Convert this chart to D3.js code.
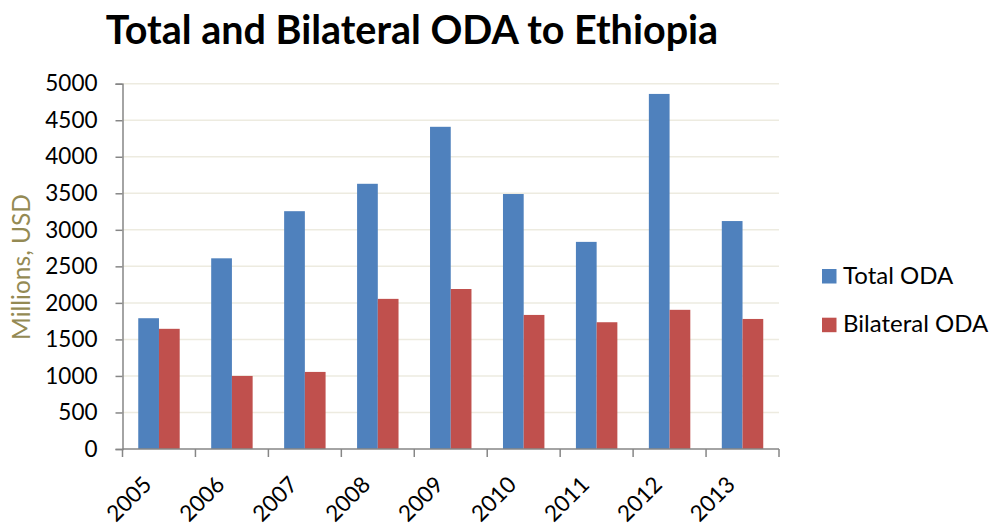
<!DOCTYPE html>
<html>
<head>
<meta charset="utf-8">
<script src="https://cdn.jsdelivr.net/npm/d3@7/dist/d3.min.js"></script>
<style>
  html, body { margin: 0; padding: 0; background: #fff; }
  svg { display: block; font-family: "Lato", "Open Sans", sans-serif; }
</style>
</head>
<body>
<svg id="chart" width="994" height="525"></svg>
<script>
// ODA to Ethiopia, millions of USD
const years = ["2005", "2006", "2007", "2008", "2009", "2010", "2011", "2012", "2013"];
const totalODA = [1790, 2610, 3255, 3630, 4410, 3490, 2835, 4860, 3120];
const bilateralODA = [1645, 1000, 1055, 2055, 2190, 1835, 1735, 1905, 1780];
const seriesNames = ["Total ODA", "Bilateral ODA"];
const seriesColors = ["#4F81BD", "#C0504D"];
const yTicks = [0, 500, 1000, 1500, 2000, 2500, 3000, 3500, 4000, 4500, 5000];

const svg = d3.select("#chart");
const plot = { left: 122.5, right: 779, top: 83.7, bottom: 449 };

const x = d3.scaleBand().domain(years).range([plot.left, plot.right]).paddingInner(0).paddingOuter(0);
const inner = d3.scaleBand().domain(seriesNames).range([0, x.bandwidth()]).paddingInner(0).paddingOuter(0.76);
const y = d3.scaleLinear().domain([0, 5000]).range([plot.bottom, plot.top]);

// Title
svg.append("text")
  .attr("x", 412).attr("y", 44)
  .attr("text-anchor", "middle")
  .style("font-size", "39.5px").style("font-weight", "bold").style("fill", "#000")
  .text("Total and Bilateral ODA to Ethiopia");

// Horizontal gridlines
svg.append("g").selectAll("line")
  .data(yTicks.filter(d => d > 0))
  .join("line")
  .attr("x1", plot.left).attr("x2", plot.right)
  .attr("y1", d => y(d)).attr("y2", d => y(d))
  .attr("stroke", "#EDEBE0").attr("stroke-width", 1.5);

// Bars
const data = years.map((yr, i) => ({ year: yr, values: [totalODA[i], bilateralODA[i]] }));
const groups = svg.append("g").selectAll("g")
  .data(data).join("g")
  .attr("transform", d => `translate(${x(d.year)},0)`);
groups.selectAll("rect")
  .data(d => d.values.map((v, j) => ({ name: seriesNames[j], value: v, color: seriesColors[j] })))
  .join("rect")
  .attr("x", d => inner(d.name))
  .attr("width", inner.bandwidth())
  .attr("y", d => y(d.value))
  .attr("height", d => y(0) - y(d.value))
  .attr("fill", d => d.color);

// Y axis
const yAxis = d3.axisLeft(y).tickValues(yTicks).tickSize(7).tickPadding(18).tickFormat(d3.format("d"));
const gy = svg.append("g").attr("transform", `translate(${plot.left},0)`).call(yAxis)
  .attr("font-family", null).attr("font-size", null);
gy.select(".domain").attr("stroke", "#868686").attr("stroke-width", 1.5);
gy.selectAll(".tick line").attr("stroke", "#868686").attr("stroke-width", 1.5);
gy.selectAll(".tick text").style("font-size", "22.5px").style("fill", "#000");

// X axis with boundary ticks between categories
const gx = svg.append("g").attr("transform", `translate(0,${plot.bottom})`);
gx.append("line").attr("x1", plot.left).attr("x2", plot.right)
  .attr("stroke", "#868686").attr("stroke-width", 1.5);
const bounds = years.map(d => x(d)).concat([plot.right]);
gx.selectAll("line.tk").data(bounds).join("line").attr("class", "tk")
  .attr("x1", d => d).attr("x2", d => d).attr("y1", 0).attr("y2", 8)
  .attr("stroke", "#868686").attr("stroke-width", 1.5);
gx.selectAll("text").data(years).join("text")
  .attr("transform", d => `translate(${x(d) + x.bandwidth() / 2 - 6},${37}) rotate(-45)`)
  .attr("text-anchor", "end")
  .style("font-size", "22.5px").style("fill", "#000")
  .text(d => d);

// Y axis title
svg.append("text")
  .attr("transform", `translate(30,267) rotate(-90)`)
  .attr("text-anchor", "middle")
  .style("font-size", "24.5px").style("fill", "#948A54")
  .text("Millions, USD");

// Legend
const legend = svg.append("g").selectAll("g")
  .data(seriesNames).join("g")
  .attr("transform", (d, i) => `translate(822,${269 + i * 48.7})`);
legend.append("rect").attr("width", 14.5).attr("height", 14.5)
  .attr("fill", (d, i) => seriesColors[i]);
legend.append("text").attr("x", 21).attr("y", 14.5)
  .style("font-size", "24px").style("fill", "#000")
  .text(d => d);
</script>
</body>
</html>
